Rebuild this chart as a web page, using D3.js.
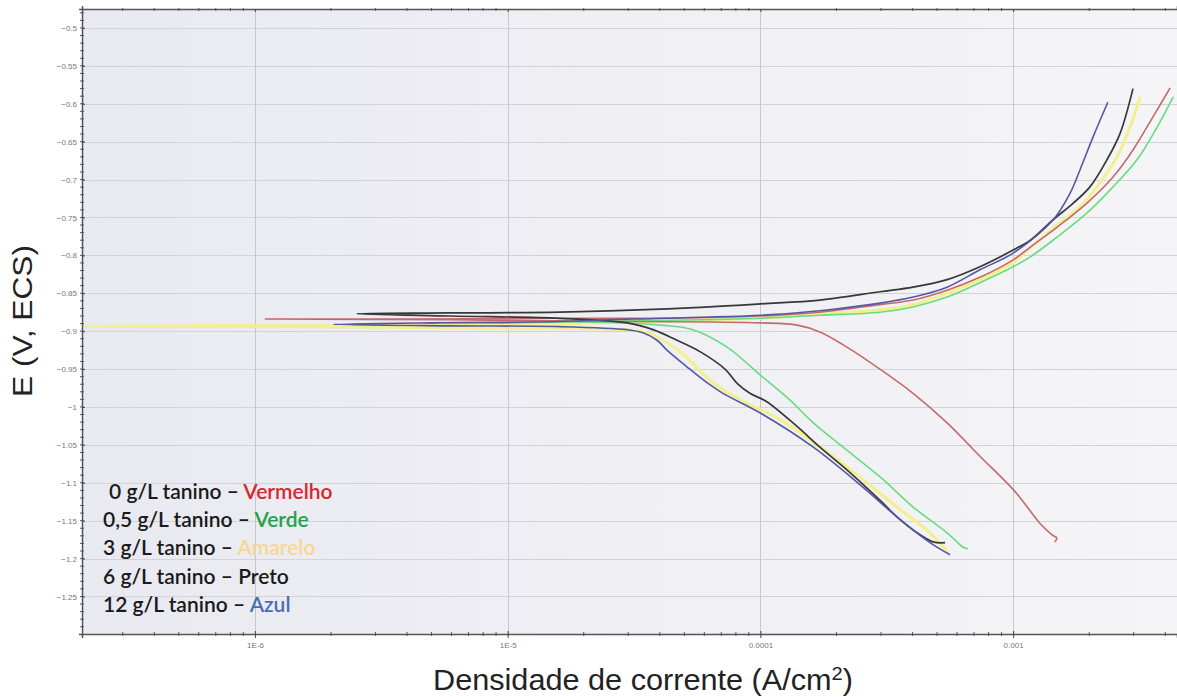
<!DOCTYPE html>
<html>
<head>
<meta charset="utf-8">
<script src="https://cdn.jsdelivr.net/npm/d3@7"></script>
<style>
  body { margin: 0; background: #fff; }
  svg { display: block; }
</style>
</head>
<body>
<svg width="1177" height="697"></svg>
<script>
// curvas de polarização: [densidade de corrente (A/cm2), E (V)]
var vermelho = [[1.46e-3,-1.178],[1.49e-3,-1.173],[1.43e-3,-1.169],[1.28e-3,-1.154],[1.02e-3,-1.112],[7.39e-4,-1.065],
  [5.48e-4,-1.021],[4.02e-4,-0.982],[2.97e-4,-0.950],[2.2e-4,-0.921],[1.72e-4,-0.901],[1.40e-4,-0.892],[1.0e-4,-0.889],
  [6.49e-5,-0.888],[2.32e-5,-0.887],[5.91e-6,-0.885],[1.1e-6,-0.884],[3.75e-6,-0.884],[1.61e-5,-0.883],[4.01e-5,-0.883],
  [1.0e-4,-0.880],[1.72e-4,-0.875],[2.97e-4,-0.865],[4.02e-4,-0.859],[5.48e-4,-0.846],[7.39e-4,-0.829],[1.0e-3,-0.806],
  [1.17e-3,-0.789],[1.49e-3,-0.763],[1.96e-3,-0.731],[2.48e-3,-0.697],[2.98e-3,-0.661],[3.58e-3,-0.617],[4.18e-3,-0.579]];

var verde = [[6.63e-4,-1.187],[6.34e-4,-1.185],[5.48e-4,-1.166],[4.02e-4,-1.132],[2.97e-4,-1.092],[2.2e-4,-1.057],
  [1.62e-4,-1.021],[1.31e-4,-0.991],[1.0e-4,-0.958],[7.38e-5,-0.921],[5.41e-5,-0.898],[4.01e-5,-0.892],[1.93e-5,-0.888],
  [9.32e-6,-0.889],[4.8e-6,-0.889],[1.26e-5,-0.888],[3.66e-5,-0.886],[1.0e-4,-0.883],[1.72e-4,-0.879],[2.97e-4,-0.875],
  [4.02e-4,-0.868],[5.48e-4,-0.855],[7.39e-4,-0.836],[1.0e-3,-0.815],[1.17e-3,-0.802],[1.49e-3,-0.776],[1.96e-3,-0.744],
  [2.48e-3,-0.710],[3.09e-3,-0.674],[3.71e-3,-0.631],[4.3e-3,-0.591]];

var amarelo = [[5.48e-4,-1.191],[4.69e-4,-1.166],[3.47e-4,-1.132],[2.2e-4,-1.079],[1.2e-4,-1.017],[8.85e-5,-0.995],
  [6.49e-5,-0.968],[4.81e-5,-0.927],[3.56e-5,-0.902],[2.32e-5,-0.897],[9.32e-6,-0.896],[1.51e-6,-0.894],[2.07e-7,-0.894],
  [6.05e-7,-0.893],[3.75e-6,-0.893],[9.32e-6,-0.892],[2.32e-5,-0.889],[5.77e-5,-0.885],[1.0e-4,-0.883],[1.72e-4,-0.877],
  [2.97e-4,-0.872],[4.02e-4,-0.865],[5.48e-4,-0.850],[7.39e-4,-0.832],[1.0e-3,-0.809],[1.14e-3,-0.793],[1.44e-3,-0.764],
  [1.84e-3,-0.736],[2.21e-3,-0.704],[2.58e-3,-0.670],[2.90e-3,-0.631],[3.18e-3,-0.591]];

var preto = [[5.38e-4,-1.179],[4.82e-4,-1.178],[4.17e-4,-1.166],[3.47e-4,-1.145],[2.97e-4,-1.123],[2.2e-4,-1.083],
  [1.72e-4,-1.053],[1.40e-4,-1.026],[1.06e-4,-0.993],[9.09e-5,-0.982],[8.15e-5,-0.970],[7.24e-5,-0.950],[5.77e-5,-0.927],
  [4.68e-5,-0.912],[3.76e-5,-0.898],[2.97e-5,-0.889],[1.61e-5,-0.883],[5.91e-6,-0.880],[2.53e-6,-0.877],[5.91e-6,-0.876],
  [1.61e-5,-0.875],[4.01e-5,-0.871],[1.0e-4,-0.864],[1.72e-4,-0.859],[2.97e-4,-0.848],[4.02e-4,-0.842],[5.48e-4,-0.832],
  [7.39e-4,-0.815],[1.0e-3,-0.793],[1.17e-3,-0.780],[1.44e-3,-0.753],[1.73e-3,-0.731],[2.01e-3,-0.710],[2.35e-3,-0.674],
  [2.65e-3,-0.639],[2.98e-3,-0.580]];

var azul = [[5.63e-4,-1.195],[4.69e-4,-1.179],[3.47e-4,-1.145],[2.55e-4,-1.106],[1.62e-4,-1.053],[1.0e-4,-1.008],
  [7.11e-5,-0.982],[6.15e-5,-0.968],[5.12e-5,-0.947],[4.27e-5,-0.925],[3.9e-5,-0.912],[3.43e-5,-0.902],[2.97e-5,-0.898],
  [1.61e-5,-0.894],[5.91e-6,-0.893],[2.04e-6,-0.891],[5.06e-6,-0.889],[1.26e-5,-0.888],[3.13e-5,-0.884],[1.0e-4,-0.879],
  [1.72e-4,-0.873],[2.97e-4,-0.863],[4.02e-4,-0.855],[5.48e-4,-0.842],[7.39e-4,-0.819],[1.0e-3,-0.797],[1.44e-3,-0.753],
  [1.68e-3,-0.718],[1.84e-3,-0.687],[2.07e-3,-0.644],[2.37e-3,-0.598]];

var yTicks = [-0.5,-0.55,-0.6,-0.65,-0.7,-0.75,-0.8,-0.85,-0.9,-0.95,-1,-1.05,-1.1,-1.15,-1.2,-1.25];
var xTicks = [1e-6, 1e-5, 1e-4, 1e-3];
var xTickLabels = ["1E-6", "1E-5", "0.0001", "0.001"];

var legendaTexto = ["0 g/L tanino \u2013 ", "0,5 g/L tanino \u2013 ", "3 g/L tanino \u2013 ", "6 g/L tanino \u2013 ", "12 g/L tanino \u2013 "];
var legendaCor = ["Vermelho", "Verde", "Amarelo", "Preto", "Azul"];

function main() {
  var svg = d3.select("svg"),
      left = 82, right = 1177, top = 9, bottom = 634;

  var x = d3.scaleLog().domain([2.07e-7, 4.45e-3]).range([left, right]),
      y = d3.scaleLinear().domain([-1.2995, -0.475]).range([bottom, top]);

  var defs = svg.append("defs");
  var grad = defs.append("linearGradient").attr("id", "bg");
  grad.append("stop").attr("offset", "0%").attr("stop-color", "#e9e9f1");
  grad.append("stop").attr("offset", "100%").attr("stop-color", "#f5f5f7");
  defs.append("clipPath").attr("id", "clip")
      .append("rect").attr("x", left).attr("y", top).attr("width", right - left).attr("height", bottom - top);

  svg.append("rect")
     .attr("x", left).attr("y", top)
     .attr("width", right - left).attr("height", bottom - top)
     .attr("fill", "url(#bg)");

  // grade
  svg.append("g").selectAll("line").data(yTicks).enter().append("line")
     .attr("x1", left).attr("x2", right)
     .attr("y1", function(d) { return Math.round(y(d)) + 0.5; })
     .attr("y2", function(d) { return Math.round(y(d)) + 0.5; })
     .attr("stroke", "#d2d2da");
  svg.append("g").selectAll("line").data(xTicks).enter().append("line")
     .attr("y1", top).attr("y2", bottom)
     .attr("x1", function(d) { return Math.round(x(d)) + 0.5; })
     .attr("x2", function(d) { return Math.round(x(d)) + 0.5; })
     .attr("stroke", "#c6c6ce");

  // curvas
  var line = d3.line()
      .x(function(d) { return x(d[0]); })
      .y(function(d) { return y(d[1]); })
      .curve(d3.curveCatmullRom.alpha(0.5));

  var series = [
    { data: amarelo, cor: "#f1f08c", w: 3 },
    { data: verde, cor: "#66dd80", w: 1.6 },
    { data: vermelho, cor: "#c46a6a", w: 1.6 },
    { data: preto, cor: "#383838", w: 1.7 },
    { data: azul, cor: "#5656a6", w: 1.6 }
  ];
  var g = svg.append("g").attr("clip-path", "url(#clip)");
  series.forEach(function(s) {
    g.append("path")
     .datum(s.data)
     .attr("d", line)
     .attr("fill", "none")
     .attr("stroke", s.cor)
     .attr("stroke-width", s.w)
     .attr("stroke-linejoin", "round");
  });

  // eixos
  var minorX = [];
  for (var e = -7; e <= -3; e++) {
    for (var m = 2; m <= 9; m++) {
      var v = m * Math.pow(10, e);
      if (v > x.domain()[0] && v < x.domain()[1]) minorX.push(v);
    }
  }
  var minorY = d3.range(-1.29, -0.475, 0.01);

  var ax = svg.append("g").attr("transform", "translate(0," + bottom + ")");
  ax.call(d3.axisBottom(x).tickValues(xTicks).tickSize(4).tickFormat(function(d, i) { return xTickLabels[i]; }));
  ax.select(".domain").attr("stroke", "#555").attr("stroke-width", 1.5);
  ax.selectAll(".tick line").attr("stroke", "#444").attr("y1", -3);
  ax.selectAll("text").attr("font-family", "Liberation Sans, Arial, sans-serif").attr("font-size", 8).attr("fill", "#777").attr("dy", "0.9em");
  ax.selectAll(".minor").data(minorX).enter().append("line")
    .attr("class", "minor")
    .attr("x1", function(d) { return x(d); }).attr("x2", function(d) { return x(d); })
    .attr("y1", -2).attr("y2", 2).attr("stroke", "#555");

  var at = svg.append("g").attr("transform", "translate(0," + top + ")");
  at.call(d3.axisTop(x).tickValues(xTicks).tickSize(3).tickFormat(""));
  at.select(".domain").attr("stroke", "#555").attr("stroke-width", 1.5);
  at.selectAll(".tick line").attr("stroke", "#444").attr("y2", 3);
  at.selectAll(".minor").data(minorX).enter().append("line")
    .attr("class", "minor")
    .attr("x1", function(d) { return x(d); }).attr("x2", function(d) { return x(d); })
    .attr("y1", -1).attr("y2", 2).attr("stroke", "#555");

  var ay = svg.append("g").attr("transform", "translate(" + left + ",0)");
  ay.call(d3.axisLeft(y).tickValues(yTicks).tickSize(3).tickFormat(function(d) { return d3.format("")(+d.toFixed(2)); }));
  ay.select(".domain").attr("stroke", "#555").attr("stroke-width", 1.5);
  ay.selectAll(".tick line").attr("stroke", "#444").attr("x2", 3);
  ay.selectAll("text").attr("font-family", "Liberation Sans, Arial, sans-serif").attr("font-size", 8).attr("fill", "#777").attr("x", -5);
  ay.selectAll(".minor").data(minorY).enter().append("line")
    .attr("class", "minor")
    .attr("y1", function(d) { return y(d); }).attr("y2", function(d) { return y(d); })
    .attr("x1", -2).attr("x2", 2).attr("stroke", "#555");

  // títulos
  svg.append("text")
     .attr("transform", "translate(32,321) rotate(-90)")
     .attr("text-anchor", "middle")
     .attr("font-family", "Liberation Sans, Arial, sans-serif")
     .attr("font-size", "28px")
     .attr("textLength", 152)
     .attr("lengthAdjust", "spacingAndGlyphs")
     .attr("fill", "#222")
     .text("E (V, ECS)");

  var xt = svg.append("text")
     .attr("x", 643).attr("y", 690)
     .attr("text-anchor", "middle")
     .attr("font-family", "Liberation Sans, Arial, sans-serif")
     .attr("font-size", "29px")
     .attr("textLength", 420)
     .attr("lengthAdjust", "spacingAndGlyphs")
     .attr("fill", "#222");
  xt.append("tspan").text("Densidade de corrente (A/cm");
  xt.append("tspan").attr("font-size", "19px").attr("dy", "-10").text("2");
  xt.append("tspan").attr("dy", "10").text(")");

  // legenda
  var cores = ["#d9262c", "#22a34a", "#f6d88e", "#1a1a1a", "#4a6db5"];
  var ly = [499, 527, 555, 584, 612];
  var leg = svg.append("g");
  legendaTexto.forEach(function(t, i) {
    var tx = leg.append("text")
       .attr("x", i === 0 ? 109 : 103).attr("y", ly[i])
       .attr("font-family", "Lato, Open Sans, sans-serif")
       .attr("font-size", "21px")
       .attr("font-weight", 600)
       .attr("fill", "#1a1a1a");
    tx.append("tspan").text(t);
    tx.append("tspan").attr("fill", cores[i]).text(legendaCor[i]);
  });
}
main();
</script>
</body>
</html>
